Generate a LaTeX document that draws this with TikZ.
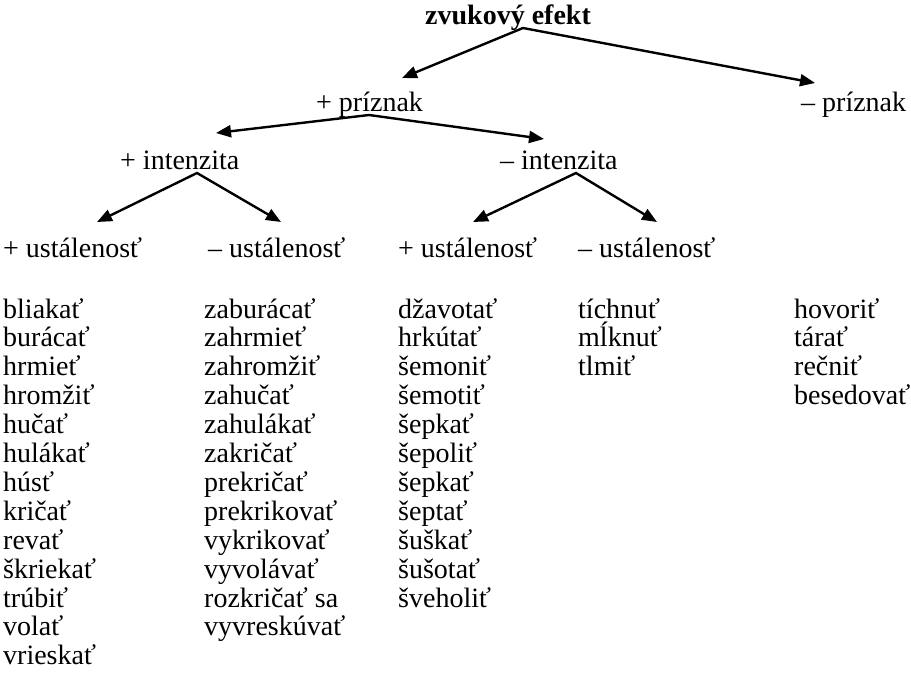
\documentclass[tikz,border=0pt]{standalone}
\usepackage{fontspec}
\setmainfont{Liberation Serif}
\usetikzlibrary{arrows.meta}
\begin{document}
\begin{tikzpicture}[x=1pt,y=-1pt,
  lbl/.style={anchor=base west, inner sep=0pt, font=\fontsize{28}{29}\selectfont},
  rootlbl/.style={lbl, font=\fontsize{28}{29}\selectfont\bfseries},
  fork/.style={line width=2.4pt, line join=miter,
    {Triangle[length=15pt,width=12pt]}-{Triangle[length=15pt,width=12pt]}}]
\useasboundingbox (0,0) rectangle (911,673);
% headings
\node[rootlbl] (root) at (425,24) {zvukový efekt};
\node[lbl] (pp) at (316,111) {+ príznak};
\node[lbl] (mp) at (801,111) {– príznak};
\node[lbl] (pi) at (120,169) {+ intenzita};
\node[lbl] (mi) at (500,169) {– intenzita};
\node[lbl] (pu1) at (3,257) {+ ustálenosť};
\node[lbl] (mu1) at (208,257) {– ustálenosť};
\node[lbl] (pu2) at (398,257) {+ ustálenosť};
\node[lbl] (mu2) at (578,257) {– ustálenosť};
% connector points
\coordinate (a0) at (523,28);
\coordinate (t01) at (402,78);
\coordinate (t02) at (815,83);
\coordinate (a1) at (369,115);
\coordinate (t11) at (216,133);
\coordinate (t12) at (544,139);
\coordinate (a2) at (197,173);
\coordinate (t21) at (97,222);
\coordinate (t22) at (281,222);
\coordinate (a3) at (576,173);
\coordinate (t31) at (473,222);
\coordinate (t32) at (657,222);
\draw[fork] (t01) -- (a0) -- (t02);
\draw[fork] (t11) -- (a1) -- (t12);
\draw[fork] (t21) -- (a2) -- (t22);
\draw[fork] (t31) -- (a3) -- (t32);
% word lists
\foreach \w [count=\i] in {bliakať,burácať,hrmieť,hromžiť,hučať,hulákať,húsť,kričať,revať,škriekať,trúbiť,volať,vrieskať}
  \node[lbl] (ca\i) at (3,{318+28.9*(\i-1)}) {\w};
\foreach \w [count=\i] in {zaburácať,zahrmieť,zahromžiť,zahučať,zahulákať,zakričať,prekričať,prekrikovať,vykrikovať,vyvolávať,rozkričať sa,vyvreskúvať}
  \node[lbl] (cb\i) at (204,{318+28.9*(\i-1)}) {\w};
\foreach \w [count=\i] in {džavotať,hrkútať,šemoniť,šemotiť,šepkať,šepoliť,šepkať,šeptať,šuškať,šušotať,šveholiť}
  \node[lbl] (cc\i) at (398,{318+28.9*(\i-1)}) {\w};
\foreach \w [count=\i] in {tíchnuť,mĺknuť,tlmiť}
  \node[lbl] (cd\i) at (578,{318+28.9*(\i-1)}) {\w};
\foreach \w [count=\i] in {hovoriť,tárať,rečniť,besedovať}
  \node[lbl] (ce\i) at (794,{318+28.9*(\i-1)}) {\w};
\end{tikzpicture}
\end{document}
